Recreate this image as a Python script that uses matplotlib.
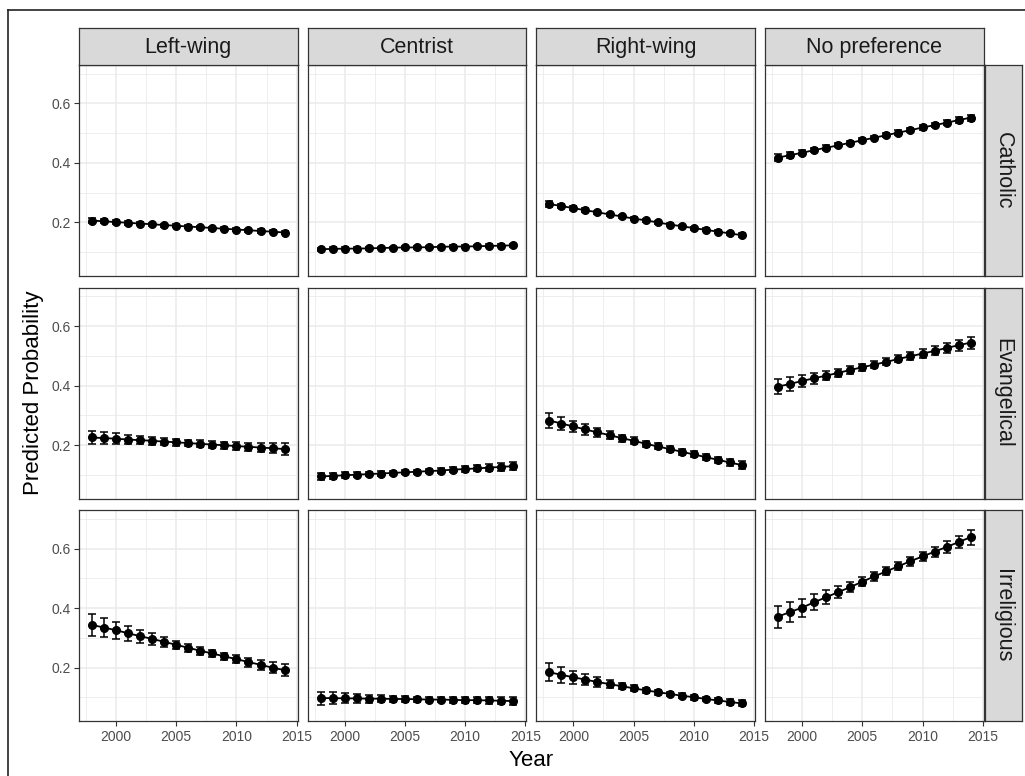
import numpy as np
import matplotlib.pyplot as plt
from matplotlib.lines import Line2D

plt.rcParams['font.family'] = ['Liberation Sans', 'DejaVu Sans']

years = list(range(1998, 2015))
cols = ["Left-wing", "Centrist", "Right-wing", "No preference"]
rows = ["Catholic", "Evangelical", "Irreligious"]

# Catholic
cath_left = [0.206, 0.204, 0.201, 0.199, 0.196, 0.194, 0.191, 0.189, 0.186, 0.184, 0.181, 0.179, 0.176, 0.174, 0.171, 0.169, 0.166]
cath_left_err = [0.008, 0.007, 0.006, 0.006, 0.005, 0.005, 0.005, 0.005, 0.005, 0.005, 0.005, 0.005, 0.005, 0.005, 0.006, 0.006, 0.006]
cath_cent = [0.110, 0.111, 0.112, 0.112, 0.113, 0.114, 0.115, 0.116, 0.116, 0.117, 0.118, 0.119, 0.119, 0.120, 0.121, 0.122, 0.123]
cath_cent_err = [0.005, 0.005, 0.004, 0.004, 0.004, 0.004, 0.004, 0.004, 0.004, 0.004, 0.004, 0.004, 0.004, 0.004, 0.005, 0.005, 0.005]
cath_right = [0.262, 0.255, 0.248, 0.241, 0.234, 0.227, 0.220, 0.213, 0.207, 0.200, 0.193, 0.187, 0.181, 0.175, 0.169, 0.163, 0.157]
cath_right_err = [0.009, 0.008, 0.007, 0.007, 0.006, 0.006, 0.005, 0.005, 0.005, 0.005, 0.005, 0.005, 0.005, 0.005, 0.005, 0.006, 0.006]
cath_nopref = [0.418, 0.426, 0.434, 0.443, 0.451, 0.459, 0.468, 0.476, 0.485, 0.493, 0.502, 0.510, 0.519, 0.527, 0.535, 0.544, 0.552]
cath_nopref_err = [0.011, 0.010, 0.009, 0.008, 0.008, 0.007, 0.007, 0.007, 0.006, 0.006, 0.007, 0.007, 0.007, 0.008, 0.008, 0.009, 0.010]

# Evangelical
evan_left = [0.226, 0.224, 0.222, 0.219, 0.217, 0.215, 0.212, 0.210, 0.207, 0.205, 0.202, 0.200, 0.197, 0.195, 0.192, 0.190, 0.187]
evan_left_err = [0.022, 0.020, 0.018, 0.016, 0.014, 0.013, 0.012, 0.011, 0.011, 0.011, 0.011, 0.012, 0.013, 0.014, 0.016, 0.017, 0.019]
evan_cent = [0.095, 0.097, 0.099, 0.101, 0.103, 0.105, 0.107, 0.109, 0.111, 0.113, 0.115, 0.118, 0.120, 0.122, 0.125, 0.127, 0.130]
evan_cent_err = [0.012, 0.011, 0.010, 0.009, 0.008, 0.008, 0.007, 0.007, 0.007, 0.007, 0.008, 0.008, 0.009, 0.010, 0.011, 0.012, 0.014]
evan_right = [0.283, 0.273, 0.263, 0.253, 0.243, 0.234, 0.224, 0.215, 0.205, 0.196, 0.187, 0.178, 0.169, 0.160, 0.151, 0.142, 0.133]
evan_right_err = [0.025, 0.022, 0.019, 0.017, 0.015, 0.013, 0.012, 0.011, 0.010, 0.010, 0.010, 0.010, 0.010, 0.011, 0.011, 0.012, 0.013]
evan_nopref = [0.397, 0.406, 0.416, 0.425, 0.434, 0.443, 0.453, 0.462, 0.471, 0.480, 0.490, 0.499, 0.508, 0.517, 0.527, 0.536, 0.545]
evan_nopref_err = [0.025, 0.023, 0.020, 0.018, 0.016, 0.014, 0.013, 0.012, 0.012, 0.012, 0.012, 0.013, 0.014, 0.015, 0.016, 0.018, 0.020]

# Irreligious
irr_left = [0.344, 0.335, 0.326, 0.316, 0.306, 0.297, 0.287, 0.277, 0.267, 0.257, 0.248, 0.238, 0.229, 0.219, 0.210, 0.200, 0.192]
irr_left_err = [0.037, 0.033, 0.029, 0.025, 0.022, 0.019, 0.016, 0.014, 0.013, 0.013, 0.013, 0.013, 0.014, 0.015, 0.016, 0.018, 0.020]
irr_cent = [0.098, 0.098, 0.097, 0.097, 0.096, 0.096, 0.095, 0.095, 0.094, 0.093, 0.093, 0.092, 0.091, 0.091, 0.090, 0.089, 0.088]
irr_cent_err = [0.022, 0.019, 0.017, 0.015, 0.013, 0.011, 0.010, 0.009, 0.009, 0.009, 0.009, 0.009, 0.010, 0.010, 0.011, 0.012, 0.014]
irr_right = [0.185, 0.176, 0.168, 0.160, 0.152, 0.145, 0.138, 0.131, 0.124, 0.118, 0.112, 0.106, 0.101, 0.095, 0.090, 0.085, 0.080]
irr_right_err = [0.030, 0.026, 0.022, 0.019, 0.016, 0.013, 0.011, 0.010, 0.009, 0.008, 0.008, 0.008, 0.008, 0.008, 0.008, 0.009, 0.010]
irr_nopref = [0.372, 0.387, 0.402, 0.420, 0.437, 0.454, 0.471, 0.489, 0.507, 0.524, 0.541, 0.558, 0.574, 0.590, 0.606, 0.622, 0.639]
irr_nopref_err = [0.037, 0.033, 0.030, 0.027, 0.024, 0.021, 0.018, 0.016, 0.015, 0.014, 0.014, 0.015, 0.016, 0.017, 0.019, 0.021, 0.025]

grid = [
    [(cath_left, cath_left_err), (cath_cent, cath_cent_err), (cath_right, cath_right_err), (cath_nopref, cath_nopref_err)],
    [(evan_left, evan_left_err), (evan_cent, evan_cent_err), (evan_right, evan_right_err), (evan_nopref, evan_nopref_err)],
    [(irr_left, irr_left_err), (irr_cent, irr_cent_err), (irr_right, irr_right_err), (irr_nopref, irr_nopref_err)],
]

W, H = 1025, 776
fig = plt.figure(figsize=(W / 100, H / 100), dpi=100)


def px(x, y, w, h):
    # pixel box (top-left origin) -> figure fraction
    return [x / W, 1 - (y + h) / H, w / W, h / H]


col_left = [79, 307.7, 536.4, 765.1]
col_w = 218.5
row_top = [65.0, 287.8, 510.3]
row_h = 211
dark = "#333333"

for i, rname in enumerate(rows):
    for j, cname in enumerate(cols):
        ax = fig.add_axes(px(col_left[j], row_top[i], col_w, row_h))
        vals, errs = grid[i][j]
        ax.errorbar(years, vals, yerr=errs, color="black", marker="o", markersize=5.5,
                    lw=1.3, elinewidth=1.1, capsize=3, capthick=1.1, zorder=3)
        ax.set_xlim(1996.93, 2015.07)
        ax.set_ylim(0.02, 0.729)
        ax.set_xticks([2000, 2005, 2010, 2015])
        ax.set_xticks([1997.5, 2002.5, 2007.5, 2012.5], minor=True)
        ax.set_yticks([0.2, 0.4, 0.6])
        ax.set_yticks([0.1, 0.3, 0.5, 0.7], minor=True)
        ax.grid(which="major", color="#EBEBEB", lw=1.1, zorder=0)
        ax.grid(which="minor", color="#EBEBEB", lw=0.6, zorder=0)
        ax.set_axisbelow(True)
        for s in ax.spines.values():
            s.set_color(dark)
            s.set_linewidth(0.9)
        ax.tick_params(which="minor", length=0)
        ax.tick_params(which="major", length=3.5, color=dark, width=0.8,
                       labelsize=10, labelcolor="#4D4D4D", pad=2.5)
        if j == 0:
            ax.set_yticklabels(["0.2", "0.4", "0.6"])
        else:
            ax.tick_params(axis="y", length=0, labelleft=False)
        if i == 2:
            ax.set_xticklabels(["2000", "2005", "2010", "2015"])
        else:
            ax.tick_params(axis="x", length=0, labelbottom=False)

        if i == 0:
            sax = fig.add_axes(px(col_left[j], 28.3, col_w, 36.7))
            sax.set_facecolor("#D9D9D9")
            sax.set_xticks([])
            sax.set_yticks([])
            for s in sax.spines.values():
                s.set_color(dark)
                s.set_linewidth(0.9)
            sax.text(0.5, 0.47, cname, ha="center", va="center", fontsize=15.5,
                     color="#1A1A1A", transform=sax.transAxes)
        if j == 3:
            sax = fig.add_axes(px(984.5, row_top[i], 37, row_h))
            sax.set_facecolor("#D9D9D9")
            sax.set_xticks([])
            sax.set_yticks([])
            for s in sax.spines.values():
                s.set_color(dark)
                s.set_linewidth(0.9)
            sax.text(0.5, 0.5, rname, ha="center", va="center", fontsize=15.5,
                     rotation=-90, color="#1A1A1A", transform=sax.transAxes)

fig.text(34 / W, 1 - 393 / H, "Predicted Probability", rotation=90, ha="center",
         va="center", fontsize=16, color="black")
fig.text(531 / W, 1 - 760 / H, "Year", ha="center", va="center", fontsize=16, color="black")

# outer frame (left and top edges visible in the image)
fig.add_artist(Line2D([7.5 / W, 7.5 / W], [0, 1 - 10 / H], transform=fig.transFigure,
                      color="#222222", lw=1.2))
fig.add_artist(Line2D([7.5 / W, 1], [1 - 10 / H, 1 - 10 / H], transform=fig.transFigure,
                      color="#222222", lw=1.2))

fig.savefig("out.png", dpi=100)
